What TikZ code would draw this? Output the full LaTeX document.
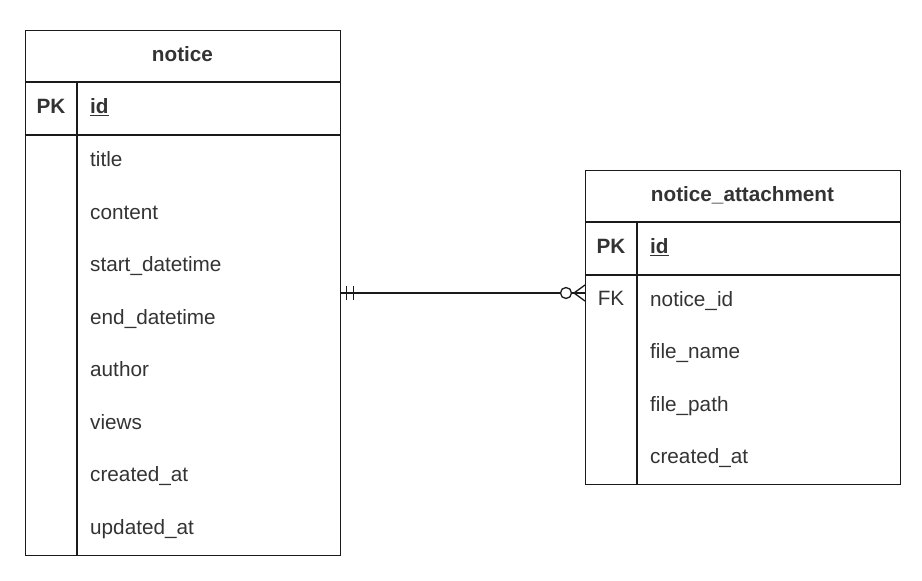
\documentclass[tikz,border=0pt]{standalone}
\usepackage{fontspec}
\setmainfont{Liberation Sans}
\definecolor{ln}{HTML}{1A1A1A}
\definecolor{txt}{HTML}{333333}
\begin{document}
\begin{tikzpicture}[x=1bp,y=-1bp,
  tbl/.style={draw=ln, line width=1.4bp, rectangle, anchor=north west, inner sep=0pt, minimum width=315bp},
  gridline/.style={draw=ln, line width=1.4bp},
  lbl/.style={inner sep=0pt, text height=1.1em, text depth=0pt, font=\fontsize{20.8}{24}\selectfont, text=txt},
  fld/.style={lbl, anchor=west},
  hdr/.style={lbl, font=\fontsize{20.8}{24}\selectfont\bfseries},
  key/.style={lbl},
  erline/.style={draw=ln, line width=1.3bp}
]
\useasboundingbox (0,0) rectangle (922,581);

% ---- notice table ----
\node[tbl, minimum height=525bp] (notice) at (25,30) {};
\draw[gridline] (25,82) -- (340,82);
\draw[gridline] (25,135) -- (340,135);
\draw[gridline] (77,82) -- (77,555);
\node[hdr] (noticeh) at (182.5,56) {notice};
\node[key, font=\fontsize{20.8}{24}\selectfont\bfseries] (noticepk) at (51,108.5) {PK};
\node[fld, font=\fontsize{20.8}{24}\selectfont\bfseries] (noticeid) at (90,108.5) {\underline{id}};
\foreach \t [count=\i] in {title,content,start\_datetime,end\_datetime,author,views,created\_at,updated\_at}
  \node[fld] (nf\i) at (90,{135+52.5*(\i-0.5)}) {\t};

% ---- notice_attachment table ----
\node[tbl, minimum height=314bp] (att) at (585,170) {};
\draw[gridline] (585,222) -- (900,222);
\draw[gridline] (585,275) -- (900,275);
\draw[gridline] (637,222) -- (637,484);
\node[hdr] (atth) at (742.5,196) {notice\_attachment};
\node[key, font=\fontsize{20.8}{24}\selectfont\bfseries] (attpk) at (611,248.5) {PK};
\node[fld, font=\fontsize{20.8}{24}\selectfont\bfseries] (attid) at (650,248.5) {\underline{id}};
\node[key] (attfk) at (611,300) {FK};
\foreach \t [count=\i] in {notice\_id,file\_name,file\_path,created\_at}
  \node[fld] (af\i) at (650,{275+52.25*(\i-0.5)}) {\t};

% ---- relationship ----
\coordinate (ly) at (0,293);
\coordinate (ls) at (notice.east |- ly);
\coordinate (le) at (att.west |- ly);
\node[circle, draw=ln, line width=1.3bp, minimum size=11bp, inner sep=0pt] (zc) at (566,293) {};
\coordinate (cf) at (574,293);
\draw[erline] (ls) -- (zc.west);
\draw[erline] (zc.east) -- (le);
% one-and-only-one bars
\draw[erline] ([xshift=5bp,yshift=-7bp]ls) -- ([xshift=5bp,yshift=7bp]ls);
\draw[erline] ([xshift=12bp,yshift=-7bp]ls) -- ([xshift=12bp,yshift=7bp]ls);
% crow's foot
\draw[erline] (cf) -- ([yshift=-8bp]le);
\draw[erline] (cf) -- ([yshift=8bp]le);
\end{tikzpicture}
\end{document}
